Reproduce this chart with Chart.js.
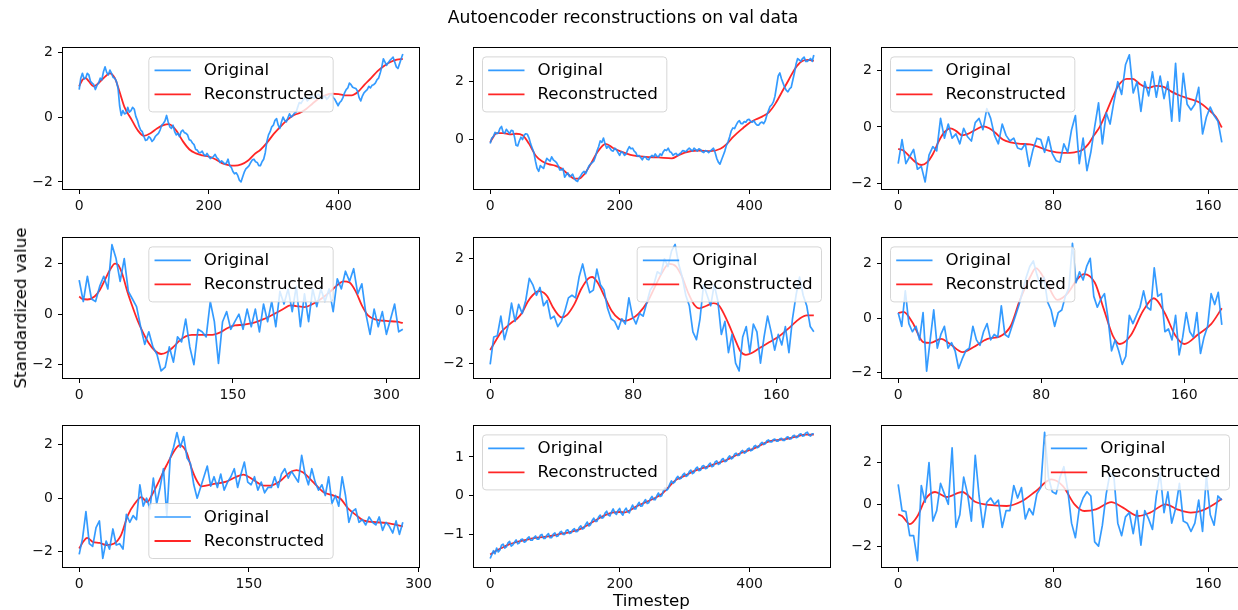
<!DOCTYPE html>
<html>
<head>
<meta charset="utf-8">
<script src="https://cdn.jsdelivr.net/npm/chart.js@4.4.1/dist/chart.umd.min.js"></script>
<style>
  body { margin: 0; background: #fff; width: 1238px; height: 610px; position: relative; overflow: hidden; font-family: "DejaVu Sans", sans-serif; }
  canvas { position: absolute; }
  .lbl { position: absolute; font-size: 16.7px; color: #000; white-space: nowrap; z-index: 5; }
</style>
</head>
<body>
<div class="lbl" style="left:623px;top:17px;font-size:17.2px;transform:translate(-50%,-50%)">Autoencoder reconstructions on val data</div>
<div class="lbl" style="left:20px;top:307.5px;transform:translate(-50%,-50%) rotate(-90deg)">Standardized value</div>
<div class="lbl" style="left:651.5px;top:600px;transform:translate(-50%,-50%)">Timestep</div>
<script>
// ---- data (original: evenly spaced samples, reconstructed: x/y pairs) ----
const last1 = 499;
const orig1 = [0.85,1.2,1.35,1.18,1.2,1.35,1.3,1.1,1.05,1.0,0.85,0.98,1.05,1.2,1.15,1.4,1.55,1.38,1.3,1.45,
  1.35,1.22,1.2,1.1,0.9,0.35,0.05,0.2,0.1,0.12,0.3,0.15,0.2,0.3,0.25,0.02,-0.1,-0.28,-0.4,-0.45,
  -0.6,-0.72,-0.7,-0.6,-0.65,-0.75,-0.7,-0.6,-0.55,-0.5,-0.4,-0.25,-0.2,-0.12,0.05,-0.15,-0.3,-0.35,-0.25,-0.45,
  -0.55,-0.5,-0.6,-0.45,-0.4,-0.48,-0.5,-0.55,-0.7,-0.72,-0.8,-0.85,-1.0,-1.02,-1.1,-1.1,-1.05,-1.15,-1.2,-1.12,
  -1.2,-1.28,-1.25,-1.22,-1.15,-1.25,-1.3,-1.4,-1.35,-1.4,-1.45,-1.42,-1.3,-1.5,-1.55,-1.68,-1.75,-1.72,-1.8,-1.95,
  -2.0,-1.85,-1.7,-1.6,-1.55,-1.5,-1.4,-1.32,-1.3,-1.38,-1.4,-1.5,-1.5,-1.38,-1.3,-1.1,-0.75,-0.55,-0.45,-0.3,
  -0.25,-0.1,-0.05,-0.25,-0.35,-0.15,0.0,-0.1,-0.15,-0.02,0.1,0.0,0.05,0.12,0.15,0.3,0.45,0.42,0.5,0.58,
  0.6,0.5,0.55,0.62,0.65,0.58,0.6,0.68,0.7,0.6,0.55,0.62,0.65,0.55,0.6,0.68,0.7,0.6,0.55,0.45,
  0.35,0.45,0.5,0.6,0.75,0.85,0.9,1.05,1.0,0.92,0.9,0.88,0.8,0.6,0.5,0.65,0.75,0.8,0.85,0.95,
  0.9,0.98,1.0,1.05,1.15,1.2,1.35,1.55,1.8,1.7,1.6,1.68,1.75,1.8,1.85,1.7,1.55,1.5,1.65,1.8,1.95];
const rec1X = [0,5,10,15,22,30,40,47,55,62,70,80,90,100,110,120,130,138,145,150,160,170,180,190,200,210,220,230,240,250,260,270,280,290,300,310,320,330,340,350,360,370,380,390,400,410,420,430,440,450,460,470,480,490,499];
const rec1Y = [0.95,1.15,1.2,1.1,0.95,1.05,1.25,1.35,1.2,0.8,0.3,-0.05,-0.4,-0.58,-0.5,-0.35,-0.25,-0.22,-0.3,-0.42,-0.75,-1.0,-1.12,-1.18,-1.22,-1.3,-1.42,-1.48,-1.5,-1.46,-1.35,-1.15,-1.0,-0.78,-0.52,-0.3,-0.1,0.05,0.13,0.25,0.42,0.58,0.68,0.72,0.71,0.67,0.67,0.78,1.0,1.2,1.42,1.58,1.7,1.77,1.8];

const last2 = 499;
const orig2 = [-0.14,0.05,0.1,0.25,0.2,0.22,0.38,0.45,0.25,0.22,0.35,0.28,0.2,0.32,0.3,0.1,-0.2,-0.22,-0.05,0.08,
  0.0,0.15,0.2,0.18,0.05,-0.15,-0.3,-0.45,-0.75,-1.0,-1.1,-0.9,-0.95,-1.0,-0.8,-0.65,-0.7,-0.75,-0.6,-0.7,
  -0.75,-0.8,-0.9,-1.05,-1.05,-1.0,-1.3,-1.22,-1.15,-1.28,-1.25,-1.2,-1.35,-1.42,-1.45,-1.32,-1.25,-1.15,-1.1,-1.18,
  -1.05,-0.92,-0.85,-0.8,-0.75,-0.6,-0.4,-0.25,-0.05,-0.1,0.05,-0.15,-0.3,-0.22,-0.3,-0.38,-0.4,-0.3,-0.35,-0.45,
  -0.55,-0.42,-0.45,-0.55,-0.5,-0.35,-0.25,-0.32,-0.3,-0.4,-0.45,-0.58,-0.55,-0.62,-0.7,-0.6,-0.6,-0.68,-0.7,-0.6,
  -0.55,-0.6,-0.5,-0.58,-0.6,-0.5,-0.55,-0.42,-0.35,-0.38,-0.3,-0.42,-0.45,-0.55,-0.5,-0.48,-0.55,-0.5,-0.45,-0.38,
  -0.4,-0.42,-0.35,-0.3,-0.35,-0.4,-0.3,-0.35,-0.4,-0.32,-0.35,-0.42,-0.45,-0.38,-0.4,-0.45,-0.4,-0.35,-0.3,-0.45,
  -0.65,-0.78,-0.85,-0.7,-0.55,-0.4,-0.2,-0.08,0.1,0.3,0.4,0.38,0.5,0.6,0.65,0.55,0.55,0.62,0.6,0.68,
  0.7,0.62,0.6,0.65,0.55,0.5,0.5,0.58,0.6,0.55,0.65,0.85,1.0,1.15,1.2,1.3,1.5,1.85,2.2,2.3,
  2.1,1.95,1.8,1.7,1.65,1.75,1.8,2.05,2.3,2.6,2.8,2.75,2.7,2.8,2.85,2.7,2.7,2.75,2.8,2.7,2.92];
const rec2X = [0,5,10,20,30,40,50,60,70,80,90,100,110,120,130,137,145,155,165,178,190,200,220,240,260,280,290,300,320,340,355,365,375,390,400,410,420,430,440,450,460,470,480,490,499];
const rec2Y = [-0.1,0.1,0.22,0.22,0.18,0.2,0.15,-0.15,-0.55,-0.75,-0.85,-0.9,-1.0,-1.2,-1.35,-1.35,-1.2,-0.85,-0.45,-0.15,-0.3,-0.4,-0.55,-0.6,-0.62,-0.65,-0.55,-0.45,-0.38,-0.4,-0.32,-0.15,0.1,0.4,0.58,0.7,0.8,0.95,1.25,1.65,2.05,2.45,2.7,2.75,2.72];

const last3 = 167;
const orig3 = [-1.3,-0.45,-1.3,-1.05,-0.8,-1.5,-1.4,-1.95,-1.0,-0.7,
  -0.85,0.3,-0.4,0.1,-0.4,-0.25,-0.6,-0.05,-0.35,-0.5,
  0.15,0.3,-0.1,0.65,0.3,-0.3,-0.6,0.1,-0.3,-0.5,
  -0.4,-0.75,-0.8,-0.6,-1.4,-0.8,-0.4,-0.45,-0.9,-0.35,
  -0.95,-1.2,-1.25,-0.6,-0.9,-0.1,0.4,-1.3,-0.4,-1.55,
  -0.9,0.0,0.85,-0.6,0.5,0.1,0.9,1.6,1.15,2.2,
  2.55,1.2,1.6,0.55,1.6,1.1,1.95,1.05,1.8,1.0,
  1.6,0.2,2.25,0.2,1.9,0.8,0.6,0.8,1.4,-0.25,
  0.35,0.7,0.4,0.2,-0.55];
const rec3X = [0,3,6,9,12,15,18,21,24,27,30,33,36,40,44,47,50,54,58,63,68,72,78,85,91,95,98,101,104,107,111,114,118,121,125,129,133,137,141,145,150,155,160,164,167];
const rec3Y = [-0.78,-0.85,-1.05,-1.25,-1.35,-1.25,-0.95,-0.5,-0.18,-0.05,-0.15,-0.3,-0.25,-0.1,0.02,-0.05,-0.2,-0.45,-0.55,-0.6,-0.62,-0.7,-0.85,-0.92,-0.9,-0.82,-0.62,-0.3,0.0,0.45,1.1,1.5,1.7,1.7,1.5,1.38,1.45,1.42,1.25,1.12,1.0,0.88,0.62,0.35,-0.02];

const last4 = 316;
const orig4 = [1.35,0.5,1.5,0.6,0.5,1.1,1.5,1.0,2.75,2.2,
  1.3,2.2,0.9,0.6,0.3,-0.5,-1.2,-0.7,-1.3,-1.6,
  -2.25,-2.1,-1.3,-1.9,-0.9,-1.1,-0.2,-1.3,-2.0,-0.6,
  -0.7,-0.9,0.5,-0.3,-1.95,-0.3,0.1,-0.6,-0.3,0.0,
  -0.6,0.2,-0.5,0.2,-0.7,0.4,-0.3,0.5,-0.5,0.9,
  0.4,1.0,0.1,1.1,-0.5,0.8,-0.3,1.0,0.3,1.0,
  0.5,1.0,0.1,1.4,1.0,1.7,1.3,1.8,0.8,1.2,
  0.0,-0.8,0.2,-0.5,0.1,-0.8,-0.2,0.4,-0.7,-0.6];
const rec4X = [0,3,8,15,20,25,30,35,38,42,47,52,57,62,68,74,80,86,92,98,104,110,120,130,138,145,152,160,170,180,190,200,206,212,220,228,236,244,252,258,264,270,276,282,290,300,310,316];
const rec4Y = [0.7,0.6,0.58,0.7,0.95,1.35,1.75,2.0,1.95,1.6,0.9,0.3,-0.25,-0.7,-1.15,-1.45,-1.58,-1.5,-1.3,-1.05,-0.88,-0.82,-0.82,-0.82,-0.72,-0.55,-0.45,-0.42,-0.35,-0.2,0.0,0.22,0.35,0.32,0.28,0.4,0.6,0.85,1.15,1.3,1.25,0.9,0.35,-0.05,-0.22,-0.27,-0.3,-0.35];

const last5 = 181;
const orig5 = [-2.05,-1.0,-0.95,-0.2,-1.1,-0.6,0.3,-0.4,0.25,-0.1,
  0.4,1.25,1.0,0.6,0.9,0.2,0.4,-0.3,-0.2,-0.6,
  -0.4,0.0,0.5,0.6,0.5,1.3,1.8,1.2,0.7,0.8,
  1.6,1.0,0.8,0.1,-0.3,-0.4,-0.7,-0.3,-0.5,0.5,
  -0.2,-0.5,-0.1,-0.2,0.3,0.8,1.0,1.5,1.4,2.0,
  1.7,2.3,2.55,1.8,1.3,0.6,0.2,-0.8,-1.1,-0.3,
  1.0,0.6,0.2,1.0,0.4,-0.9,-0.4,-1.6,-0.9,-2.0,
  -2.3,-1.0,-0.6,-1.6,-0.5,-0.8,-2.0,-1.0,-0.2,-0.8,
  -1.5,-0.9,-1.3,-0.6,-1.6,-0.3,0.6,1.3,0.6,0.2,
  -0.6,-0.8];
const rec5X = [0,3,6,9,12,15,18,21,24,27,30,32,35,38,40,43,47,51,55,57,60,64,68,72,75,79,83,88,92,96,100,104,107,111,114,117,121,125,128,131,134,137,140,143,146,150,156,162,168,173,177,181];
const rec5Y = [-1.5,-1.15,-0.82,-0.62,-0.44,-0.3,-0.05,0.35,0.62,0.76,0.7,0.55,0.15,-0.15,-0.25,-0.15,0.25,0.85,1.25,1.3,1.1,0.55,0.0,-0.3,-0.38,-0.3,-0.1,0.35,0.9,1.45,1.8,1.7,1.35,0.65,0.25,0.1,0.2,0.3,0.2,-0.15,-0.6,-1.1,-1.55,-1.68,-1.62,-1.45,-1.2,-0.95,-0.6,-0.3,-0.17,-0.17];

const last6 = 181;
const orig6 = [0.2,-0.3,1.0,-0.2,-0.5,-0.3,-0.8,0.2,-1.95,-0.8,
  0.3,-1.1,-0.6,-0.3,-1.1,-0.9,-1.2,-1.85,-1.5,-1.2,
  -1.1,-0.3,-0.8,-1.0,-0.5,-0.2,-0.8,-0.6,-0.7,0.45,
  -0.6,-0.7,-0.3,0.1,0.5,1.0,1.5,1.9,2.1,1.6,
  1.2,1.5,0.6,0.3,-0.3,0.2,0.3,0.8,1.1,2.75,
  1.3,1.7,1.4,1.9,2.2,0.8,0.4,0.7,0.9,0.0,
  -1.2,-0.8,-1.2,-1.7,-1.4,0.1,-0.2,0.1,0.4,1.0,
  0.4,0.3,1.85,0.8,0.9,-0.5,-0.4,-0.8,0.1,-1.35,
  -0.7,0.2,-0.5,-0.7,0.2,-1.3,-0.7,-0.3,0.9,0.5,
  0.95,-0.25];
const rec6X = [0,3,8,14,18,24,29,36,42,50,57,63,68,74,77,83,89,95,100,104,110,115,120,124,130,137,143,149,155,160,168,175,181];
const rec6Y = [0.18,0.23,-0.16,-0.88,-0.91,-0.76,-0.95,-1.25,-1.07,-0.76,-0.67,-0.28,0.65,1.54,1.84,1.3,0.67,0.93,1.42,1.62,1.3,0.33,-0.64,-0.95,-0.64,0.27,0.73,0.2,-0.64,-0.95,-0.58,-0.22,0.36];

const last7 = 286;
const orig7 = [-2.1,-1.5,-0.5,-1.7,-1.8,-1.1,-0.85,-2.25,-1.6,-1.9,
  -1.15,-1.75,-1.7,-1.9,-0.6,-0.9,-0.65,-0.8,0.5,-0.3,
  0.0,-0.4,0.75,-0.2,0.4,1.1,-0.65,1.5,1.9,2.45,
  1.9,2.3,1.5,1.3,0.5,0.0,0.4,0.8,1.2,0.45,
  0.8,0.4,0.9,0.3,0.6,0.8,1.1,0.4,0.9,1.35,
  0.6,0.5,0.8,0.3,0.6,0.2,0.4,0.4,0.8,0.4,
  0.9,1.1,0.75,1.0,0.8,0.6,1.6,0.9,0.5,1.1,
  0.6,0.3,0.5,0.1,0.8,-0.2,0.1,-0.3,0.8,0.1,
  -0.9,-0.5,-0.4,-0.9,-0.8,-1.0,-0.7,-0.9,-1.0,-0.7,
  -1.2,-0.9,-1.05,-1.3,-0.85,-1.35,-0.9];
const rec7X = [0,3.5,7,12,18,24,31,37,43,49,55,60,64,70,77,85,89,95,99,104,108,119,130,138,145,154,163,169,178,186,192,198,207,216,223,231,238,245,251,260,272,286];
const rec7Y = [-1.88,-1.63,-1.48,-1.63,-1.67,-1.75,-1.69,-1.38,-0.64,-0.21,0.04,-0.15,0.1,0.59,1.21,1.83,1.98,1.7,1.15,0.65,0.44,0.53,0.62,0.78,0.88,0.68,0.47,0.47,0.65,0.96,1.05,0.96,0.59,0.22,0.12,-0.02,-0.4,-0.64,-0.83,-0.89,-0.93,-1.05];

const last8 = 499;
const orig8 = [-1.62,-1.52,-1.42,-1.5,-1.35,-1.45,-1.4,-1.28,-1.25,-1.35,-1.32,-1.22,-1.18,-1.3,-1.27,-1.2,-1.14,-1.24,-1.22,-1.13,
  -1.12,-1.2,-1.18,-1.1,-1.06,-1.15,-1.15,-1.08,-1.04,-1.12,-1.12,-1.02,-1.0,-1.1,-1.1,-1.02,-0.98,-1.08,-1.08,-0.99,
  -0.96,-1.05,-1.04,-0.95,-0.92,-1.0,-1.0,-0.9,-0.88,-0.97,-0.96,-0.88,-0.85,-0.93,-0.92,-0.82,-0.78,-0.86,-0.84,-0.74,
  -0.68,-0.78,-0.75,-0.64,-0.58,-0.66,-0.66,-0.55,-0.5,-0.58,-0.56,-0.45,-0.4,-0.5,-0.52,-0.42,-0.34,-0.44,-0.48,-0.38,
  -0.33,-0.45,-0.5,-0.38,-0.32,-0.42,-0.44,-0.33,-0.24,-0.34,-0.34,-0.24,-0.17,-0.27,-0.26,-0.16,-0.1,-0.2,-0.18,-0.08,
  -0.02,-0.1,-0.1,0.0,0.07,-0.02,0.0,0.12,0.2,0.14,0.18,0.3,0.38,0.32,0.35,0.45,0.5,0.43,0.45,0.54,
  0.58,0.5,0.52,0.62,0.66,0.57,0.6,0.7,0.74,0.65,0.66,0.76,0.78,0.7,0.71,0.8,0.84,0.75,0.77,0.87,
  0.9,0.81,0.83,0.93,0.96,0.88,0.89,0.98,1.03,0.95,0.98,1.07,1.1,1.04,1.05,1.14,1.17,1.1,1.12,1.2,
  1.23,1.16,1.18,1.27,1.3,1.24,1.26,1.34,1.38,1.32,1.34,1.42,1.44,1.39,1.39,1.45,1.46,1.41,1.41,1.47,
  1.48,1.43,1.43,1.5,1.52,1.46,1.47,1.54,1.56,1.5,1.51,1.58,1.6,1.54,1.55,1.62,1.64,1.56,1.54,1.6,1.6];
const rec8X = [0,10,20,30,40,50,60,70,80,90,100,110,120,130,140,150,160,170,180,190,200,208,215,225,235,245,255,265,275,285,295,305,315,325,335,345,355,365,375,385,395,405,415,425,435,445,455,465,475,485,499];
const rec8Y = [-1.52,-1.41,-1.33,-1.25,-1.2,-1.16,-1.12,-1.09,-1.07,-1.05,-1.02,-0.98,-0.95,-0.91,-0.85,-0.76,-0.66,-0.56,-0.48,-0.43,-0.42,-0.43,-0.38,-0.28,-0.2,-0.13,-0.05,0.05,0.22,0.39,0.48,0.56,0.64,0.7,0.75,0.81,0.87,0.93,1.01,1.09,1.15,1.21,1.29,1.37,1.42,1.44,1.46,1.5,1.54,1.58,1.58];

const last9 = 167;
const orig9 = [0.95,-0.3,-0.35,-1.5,-1.5,-2.7,0.9,0.1,2.0,-0.8,
  -0.3,1.0,0.5,0.0,2.7,-1.1,-0.5,1.3,0.5,-0.8,
  2.35,0.4,-1.1,0.1,0.3,0.0,0.2,-1.1,-0.3,-0.3,
  0.9,0.3,0.8,-0.7,-0.2,-0.5,0.5,0.8,3.45,1.3,
  0.6,0.5,1.3,1.8,0.7,-0.9,-1.6,-0.2,0.3,0.6,
  0.4,-1.8,-2.0,-1.0,0.5,1.5,1.3,-0.9,-1.5,-0.6,
  -0.4,-1.4,-0.3,-1.95,-0.3,-0.7,-1.2,0.4,1.5,-0.4,
  0.6,-0.9,-0.2,1.0,-0.8,-0.9,-1.3,-0.9,0.2,-1.3,
  1.4,-0.5,-1.0,0.4,0.2];
const rec9X = [0,2,6,10,14,19,25,33,40,47,56,64,71,79,85,91,96,102,110,116,124,130,138,144,151,157,163,167];
const rec9Y = [-0.48,-0.56,-0.95,-0.56,0.24,0.59,0.35,0.59,0.11,-0.03,-0.08,0.16,0.63,1.19,0.87,0.0,-0.32,-0.24,0.11,-0.16,-0.56,-0.4,0.0,-0.24,-0.4,-0.29,0.0,0.27];

// tick labels and axis limits per panel
const xTicks = [[0,200,400],[0,200,400],[0,80,160],[0,150,300],[0,80,160],[0,80,160],[0,150,300],[0,200,400],[0,80,160]];
const yTicks = [[-2,0,2],[0,2],[-2,0,2],[-2,0,2],[-2,0,2],[-2,0,2],[-2,0,2],[-1,0,1],[-2,0,2]];
const yLims = [[-2.22,2.12],[-1.71,3.15],[-2.2,2.78],[-2.53,3.0],[-2.57,2.78],[-2.2,2.93],[-2.57,2.68],[-1.84,1.79],[-3.0,3.73]];
const legendLoc = ['upper center','upper left','upper left','upper center','upper right','upper left','lower center','upper left','upper right'];

const panels = [
  [orig1, last1, rec1X, rec1Y], [orig2, last2, rec2X, rec2Y], [orig3, last3, rec3X, rec3Y],
  [orig4, last4, rec4X, rec4Y], [orig5, last5, rec5X, rec5Y], [orig6, last6, rec6X, rec6Y],
  [orig7, last7, rec7X, rec7Y], [orig8, last8, rec8X, rec8Y], [orig9, last9, rec9X, rec9Y]
];

// layout of the 3x3 grid (frame boxes)
const colLeft = [63, 474, 882];
const rowTop = [47, 237, 425];
const rowH = [142, 141, 142];
const FRAME_W = 356, AXIS_W = 50, AXIS_H = 30, PAD_T = 12, PAD_R = 22;

Chart.defaults.font.family = '"DejaVu Sans", sans-serif';
Chart.defaults.font.size = 14;
Chart.defaults.color = '#111';

const minus = v => (v < 0 ? '\u2212' + Math.abs(v) : String(v));

// spines on top of the lines, legend box on top of everything
const frameAndLegend = {
  id: 'frameAndLegend',
  afterDatasetsDraw(chart, args, opts) {
    const ctx = chart.ctx, a = chart.chartArea;
    ctx.save();
    ctx.strokeStyle = '#000';
    ctx.lineWidth = 1;
    ctx.strokeRect(Math.round(a.left) - 0.5, Math.round(a.top) - 0.5, Math.round(a.right - a.left) + 1, Math.round(a.bottom - a.top) + 1);

    ctx.font = '16.7px "DejaVu Sans"';
    const sets = chart.data.datasets;
    const tw = Math.max(...sets.map(d => ctx.measureText(d.label).width));
    const w = 55 + tw + 9, h = 55, gap = 8.5;
    const loc = opts.loc;
    let x = loc.includes('left') ? a.left + gap : loc.includes('right') ? a.right - gap - w : (a.left + a.right - w) / 2;
    let y = loc.startsWith('lower') ? a.bottom - gap - h : a.top + gap;
    ctx.beginPath();
    ctx.roundRect(x, y, w, h, 3.5);
    ctx.fillStyle = 'rgba(255,255,255,0.8)';
    ctx.fill();
    ctx.strokeStyle = 'rgba(204,204,204,0.8)';
    ctx.stroke();
    sets.forEach((d, k) => {
      const cy = y + 13.5 + 24 * k;
      ctx.strokeStyle = d.borderColor;
      ctx.lineWidth = d.borderWidth;
      ctx.beginPath();
      ctx.moveTo(x + 5.7, cy);
      ctx.lineTo(x + 42, cy);
      ctx.stroke();
      ctx.fillStyle = '#000';
      ctx.textBaseline = 'middle';
      ctx.fillText(d.label, x + 55, cy + 0.5);
    });
    ctx.restore();
  }
};

panels.forEach(([orig, last, recX, recY], i) => {
  const row = Math.floor(i / 3), col = i % 3;
  const W = AXIS_W + FRAME_W + PAD_R, H = PAD_T + rowH[row] + AXIS_H;
  const cv = document.createElement('canvas');
  cv.width = W; cv.height = H;
  cv.style.left = (colLeft[col] - AXIS_W) + 'px';
  cv.style.top = (rowTop[row] - PAD_T) + 'px';
  cv.style.width = W + 'px';
  cv.style.height = H + 'px';
  document.body.appendChild(cv);

  const n = orig.length;
  const origPts = orig.map((v, k) => ({ x: k * last / (n - 1), y: v }));
  const recPts = recX.map((x, k) => ({ x: x, y: recY[k] }));

  new Chart(cv, {
    type: 'line',
    data: {
      datasets: [
        { label: 'Original', data: origPts, borderColor: 'rgba(30,144,255,0.9)', borderWidth: 1.7, pointRadius: 0, tension: 0, borderJoinStyle: 'round' },
        { label: 'Reconstructed', data: recPts, borderColor: 'rgba(255,0,0,0.85)', borderWidth: 1.8, pointRadius: 0, cubicInterpolationMode: 'monotone' }
      ]
    },
    options: {
      responsive: false,
      maintainAspectRatio: false,
      devicePixelRatio: 1,
      animation: false,
      events: [],
      layout: { padding: { left: 0, top: PAD_T, right: PAD_R, bottom: 0 } },
      plugins: {
        legend: { display: false },
        tooltip: { enabled: false },
        frameAndLegend: { loc: legendLoc[i] }
      },
      scales: {
        x: {
          type: 'linear',
          min: -0.05 * last,
          max: 1.05 * last,
          afterBuildTicks: s => { s.ticks = xTicks[i].map(v => ({ value: v })); },
          afterFit: s => { s.height = AXIS_H; },
          ticks: { callback: minus, autoSkip: false, maxRotation: 0, padding: 4 },
          grid: { drawOnChartArea: false, drawTicks: true, tickLength: 5, tickWidth: 1, tickColor: '#000' },
          border: { display: false }
        },
        y: {
          min: yLims[i][0],
          max: yLims[i][1],
          afterBuildTicks: s => { s.ticks = yTicks[i].map(v => ({ value: v })); },
          afterFit: s => { s.width = AXIS_W; },
          ticks: { callback: minus, autoSkip: false, padding: 5 },
          grid: { drawOnChartArea: false, drawTicks: true, tickLength: 5, tickWidth: 1, tickColor: '#000' },
          border: { display: false }
        }
      }
    },
    plugins: [frameAndLegend]
  });
});
</script>
</body>
</html>
